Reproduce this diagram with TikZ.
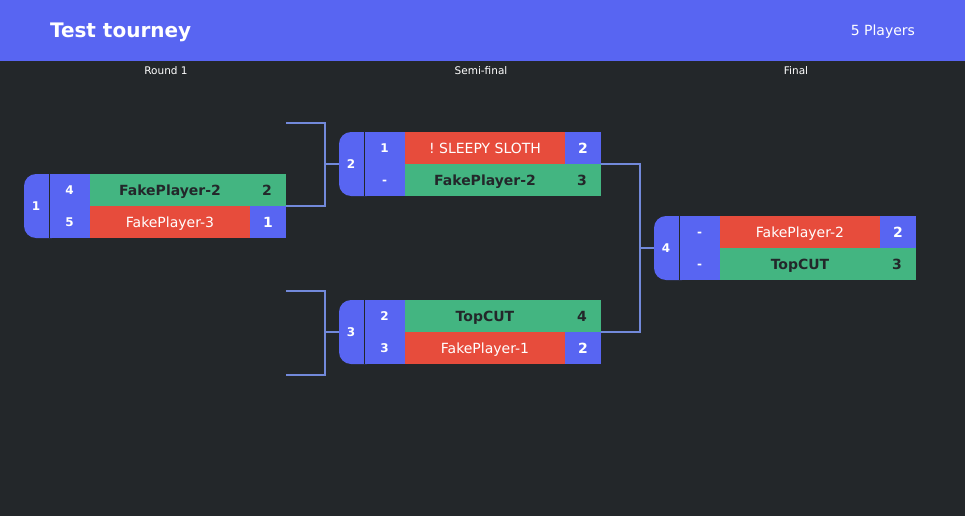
\documentclass[tikz,border=0pt]{standalone}
\usepackage{fontspec}
\setmainfont{DejaVu Sans}
\frenchspacing
\definecolor{bg}{HTML}{23272A}
\definecolor{blurple}{HTML}{5865F2}
\definecolor{wgreen}{HTML}{43B581}
\definecolor{lred}{HTML}{E74C3C}
\definecolor{linkblue}{HTML}{7289DA}
\tikzset{
  txt/.style={inner sep=0pt, outer sep=0pt, text depth=0pt},
  mframe/.style={minimum width=262pt, minimum height=64pt, inner sep=0pt, outer sep=0pt},
  numtxt/.style={txt, text height=8.76pt, text=white, font=\bfseries\fontsize{12}{14}\selectfont},
  seedtxt/.style={txt, text height=8.76pt, text=white, font=\bfseries\fontsize{12}{14}\selectfont},
  winname/.style={txt, text height=10.2pt, text=bg, font=\bfseries\fontsize{14}{16}\selectfont},
  losename/.style={txt, text height=10.2pt, text=white, font=\fontsize{14}{16}\selectfont},
  winscore/.style={txt, text height=10.2pt, text=bg, font=\bfseries\fontsize{14}{16}\selectfont},
  losescore/.style={txt, text height=10.2pt, text=white, font=\bfseries\fontsize{14}{16}\selectfont},
  roundtxt/.style={txt, text height=7.7pt, text=white, font=\fontsize{10.5}{12}\selectfont},
  link/.style={draw=linkblue, line width=2pt},
}
% #1 id, #2 x0, #3 top, #4 match number
\newcommand\matchbox[4]{%
  \node[mframe] (#1) at ({#2+131},{#3+32}) {};
  \fill[blurple, rounded corners=12pt] (#2,#3) rectangle ({#2+40},{#3+64});
  \fill[blurple] ({#2+25},#3) rectangle ({#2+66},{#3+64});
  \draw[bg, line width=1pt] ({#2+25.5},#3) -- ({#2+25.5},{#3+64});
  \node[numtxt] (#1n) at ({#2+12},{#3+32}) {#4};
}
% #1 id, #2 x0, #3 row top, #4 seed, #5 name, #6 score
\newcommand\winrow[6]{%
  \fill[wgreen] ({#2+66},#3) rectangle ({#2+262},{#3+32});
  \node[seedtxt] (#1s) at ({#2+45.5},{#3+16}) {#4};
  \node[winname] (#1p) at ({#2+146},{#3+16}) {#5};
  \node[winscore] (#1c) at ({#2+243},{#3+16}) {#6};
}
\newcommand\loserow[6]{%
  \fill[lred] ({#2+66},#3) rectangle ({#2+226},{#3+32});
  \fill[blurple] ({#2+226},#3) rectangle ({#2+262},{#3+32});
  \node[seedtxt] (#1s) at ({#2+45.5},{#3+16}) {#4};
  \node[losename] (#1p) at ({#2+146},{#3+16}) {#5};
  \node[losescore] (#1c) at ({#2+244},{#3+16}) {#6};
}
\begin{document}
\begin{tikzpicture}[x=1pt, y=-1pt]
\useasboundingbox (0,0) rectangle (965,516);
\fill[bg] (0,0) rectangle (965,516);
\fill[blurple] (0,0) rectangle (965,61);
\node[txt, anchor=west, text height=14.6pt, text=white, font=\bfseries\fontsize{20}{22}\selectfont] (title) at (50,30) {Test tourney};
\node[txt, anchor=east, text height=10.2pt, text=white, font=\fontsize{14}{16}\selectfont] (players) at (915,30) {5 Players};
\node[roundtxt] (r1) at (166,70.5) {Round 1};
\node[roundtxt] (r2) at (481,70.5) {Semi-final};
\node[roundtxt] (r3) at (796,70.5) {Final};

% connectors
\coordinate (b1) at (286,123);
\coordinate (j1) at (325,164);
\coordinate (b2) at (286,291);
\coordinate (b3) at (286,375);
\coordinate (j2) at (325,332);
\coordinate (j3) at (640,248);

\matchbox{m1}{24}{174}{1}
\winrow{m1a}{24}{174}{4}{FakePlayer-2}{2}
\loserow{m1b}{24}{206}{5}{FakePlayer-3}{1}

\matchbox{m2}{339}{132}{2}
\loserow{m2a}{339}{132}{1}{! SLEEPY SLOTH}{2}
\winrow{m2b}{339}{164}{-}{FakePlayer-2}{3}

\matchbox{m3}{339}{300}{3}
\winrow{m3a}{339}{300}{2}{TopCUT}{4}
\loserow{m3b}{339}{332}{3}{FakePlayer-1}{2}

\matchbox{m4}{654}{216}{4}
\loserow{m4a}{654}{216}{-}{FakePlayer-2}{2}
\winrow{m4b}{654}{248}{-}{TopCUT}{3}

\draw[link] (b1) -| (j1) |- (m1.east);
\draw[link] (j1) -- (m2.west);
\draw[link] (b2) -| (j2) |- (b3);
\draw[link] (j2) -- (m3.west);
\draw[link] (m2.east) -| (j3) |- (m3.east);
\draw[link] (j3) -- (m4.west);
\end{tikzpicture}
\end{document}
